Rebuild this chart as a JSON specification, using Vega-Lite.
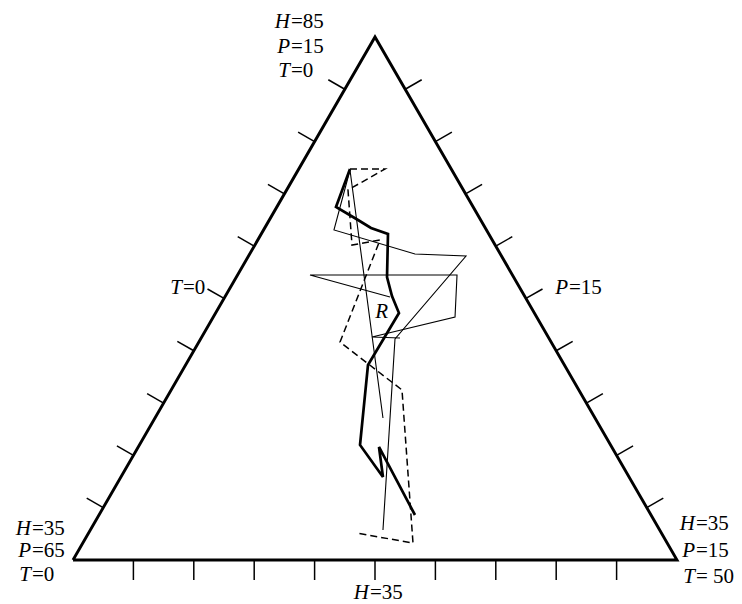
{
  "$schema": "https://vega.github.io/schema/vega-lite/v6.json",
  "width": 742,
  "height": 604,
  "autosize": "none",
  "padding": 0,
  "background": "white",
  "config": {"view": {"stroke": null}},
  "datasets": {
    "frame": [
      {"i": 0, "x": 0, "y": 0},
      {"i": 1, "x": 5, "y": 8.66},
      {"i": 2, "x": 10, "y": 0},
      {"i": 3, "x": 0, "y": 0}
    ],
    "ticks": [
      {"x": 1, "y": 0, "x2": 1, "y2": -0.331},
      {"x": 2, "y": 0, "x2": 2, "y2": -0.331},
      {"x": 3, "y": 0, "x2": 3, "y2": -0.331},
      {"x": 4, "y": 0, "x2": 4, "y2": -0.331},
      {"x": 5, "y": 0, "x2": 5, "y2": -0.331},
      {"x": 6, "y": 0, "x2": 6, "y2": -0.331},
      {"x": 7, "y": 0, "x2": 7, "y2": -0.331},
      {"x": 8, "y": 0, "x2": 8, "y2": -0.331},
      {"x": 9, "y": 0, "x2": 9, "y2": -0.331},
      {"x": 4.5, "y": 7.794, "x2": 4.227, "y2": 7.951},
      {"x": 4.0, "y": 6.928, "x2": 3.727, "y2": 7.085},
      {"x": 3.5, "y": 6.062, "x2": 3.227, "y2": 6.219},
      {"x": 3.0, "y": 5.196, "x2": 2.727, "y2": 5.353},
      {"x": 2.5, "y": 4.330, "x2": 2.227, "y2": 4.487},
      {"x": 2.0, "y": 3.464, "x2": 1.727, "y2": 3.621},
      {"x": 1.5, "y": 2.598, "x2": 1.227, "y2": 2.755},
      {"x": 1.0, "y": 1.732, "x2": 0.727, "y2": 1.889},
      {"x": 0.5, "y": 0.866, "x2": 0.227, "y2": 1.023},
      {"x": 5.5, "y": 7.794, "x2": 5.773, "y2": 7.951},
      {"x": 6.0, "y": 6.928, "x2": 6.273, "y2": 7.085},
      {"x": 6.5, "y": 6.062, "x2": 6.773, "y2": 6.219},
      {"x": 7.0, "y": 5.196, "x2": 7.273, "y2": 5.353},
      {"x": 7.5, "y": 4.330, "x2": 7.773, "y2": 4.487},
      {"x": 8.0, "y": 3.464, "x2": 8.273, "y2": 3.621},
      {"x": 8.5, "y": 2.598, "x2": 8.773, "y2": 2.755},
      {"x": 9.0, "y": 1.732, "x2": 9.273, "y2": 1.889},
      {"x": 9.5, "y": 0.866, "x2": 9.773, "y2": 1.023}
    ],
    "heavy": [
      {"i": 0, "x": 4.586, "y": 6.474},
      {"i": 1, "x": 4.354, "y": 5.844},
      {"i": 2, "x": 4.719, "y": 5.629},
      {"i": 3, "x": 4.934, "y": 5.497},
      {"i": 4, "x": 5.215, "y": 5.397},
      {"i": 5, "x": 5.199, "y": 4.685},
      {"i": 6, "x": 5.281, "y": 4.371},
      {"i": 7, "x": 5.397, "y": 4.089},
      {"i": 8, "x": 4.884, "y": 3.228},
      {"i": 9, "x": 4.752, "y": 1.904},
      {"i": 10, "x": 5.132, "y": 1.374},
      {"i": 11, "x": 5.066, "y": 1.871},
      {"i": 12, "x": 5.662, "y": 0.745}
    ],
    "dashed": [
      {"i": 0, "x": 4.586, "y": 6.474},
      {"i": 1, "x": 5.166, "y": 6.474},
      {"i": 2, "x": 4.553, "y": 6.126},
      {"i": 3, "x": 4.619, "y": 5.215},
      {"i": 4, "x": 5.083, "y": 5.298},
      {"i": 5, "x": 4.421, "y": 3.609},
      {"i": 6, "x": 5.447, "y": 2.815},
      {"i": 7, "x": 5.629, "y": 0.281},
      {"i": 8, "x": 4.685, "y": 0.447}
    ],
    "light": [
      {"p": "a", "i": 0, "x": 5.132, "y": 2.351},
      {"p": "a", "i": 1, "x": 4.586, "y": 6.457},
      {"p": "a", "i": 2, "x": 4.321, "y": 5.464},
      {"p": "a", "i": 3, "x": 5.662, "y": 5.066},
      {"p": "a", "i": 4, "x": 6.507, "y": 5.033},
      {"p": "a", "i": 5, "x": 5.331, "y": 3.659},
      {"p": "a", "i": 6, "x": 5.132, "y": 0.497},
      {"p": "b", "i": 0, "x": 5.248, "y": 4.354},
      {"p": "b", "i": 1, "x": 3.924, "y": 4.719},
      {"p": "b", "i": 2, "x": 6.358, "y": 4.719},
      {"p": "b", "i": 3, "x": 6.325, "y": 4.023},
      {"p": "b", "i": 4, "x": 4.950, "y": 3.692},
      {"p": "b", "i": 5, "x": 5.414, "y": 3.675}
    ],
    "labels": [
      {"x": 3.593, "y": 8.907, "letter": "H", "rest": "=85"},
      {"x": 3.593, "y": 8.493, "letter": "P", "rest": "=15"},
      {"x": 3.593, "y": 8.096, "letter": "T", "rest": "=0"},
      {"x": -0.695, "y": 0.513, "letter": "H", "rest": "=35"},
      {"x": -0.695, "y": 0.149, "letter": "P", "rest": "=65"},
      {"x": -0.695, "y": -0.248, "letter": "T", "rest": "=0"},
      {"x": 10.298, "y": 0.596, "letter": "H", "rest": "=35"},
      {"x": 10.298, "y": 0.149, "letter": "P", "rest": "=15"},
      {"x": 10.298, "y": -0.281, "letter": "T", "rest": "= 50"},
      {"x": 1.805, "y": 4.503, "letter": "T", "rest": "=0"},
      {"x": 8.195, "y": 4.503, "letter": "P", "rest": "=15"},
      {"x": 4.901, "y": -0.546, "letter": "H", "rest": "=35"}
    ],
    "region": [
      {"x": 5.110, "y": 4.101, "name": "R"}
    ]
  },
  "layer": [
    {
      "data": {"name": "frame"},
      "mark": {"type": "line", "color": "black", "strokeWidth": 2.9, "strokeJoin": "miter"},
      "encoding": {
        "x": {"field": "x", "type": "quantitative", "scale": {"domain": [-1.2086, 11.0762], "zero": false, "nice": false}, "axis": null},
        "y": {"field": "y", "type": "quantitative", "scale": {"domain": [-0.7285, 9.2715], "zero": false, "nice": false}, "axis": null},
        "order": {"field": "i"}
      }
    },
    {
      "data": {"name": "ticks"},
      "mark": {"type": "rule", "color": "black", "strokeWidth": 1.5},
      "encoding": {
        "x": {"field": "x", "type": "quantitative"},
        "y": {"field": "y", "type": "quantitative"},
        "x2": {"field": "x2"},
        "y2": {"field": "y2"}
      }
    },
    {
      "data": {"name": "light"},
      "mark": {"type": "line", "color": "black", "strokeWidth": 1.1, "strokeJoin": "miter"},
      "encoding": {
        "x": {"field": "x", "type": "quantitative"},
        "y": {"field": "y", "type": "quantitative"},
        "detail": {"field": "p"},
        "order": {"field": "i"}
      }
    },
    {
      "data": {"name": "dashed"},
      "mark": {"type": "line", "color": "black", "strokeWidth": 1.5, "strokeDash": [7, 4], "strokeJoin": "miter"},
      "encoding": {
        "x": {"field": "x", "type": "quantitative"},
        "y": {"field": "y", "type": "quantitative"},
        "order": {"field": "i"}
      }
    },
    {
      "data": {"name": "heavy"},
      "mark": {"type": "line", "color": "black", "strokeWidth": 2.7, "strokeJoin": "miter"},
      "encoding": {
        "x": {"field": "x", "type": "quantitative"},
        "y": {"field": "y", "type": "quantitative"},
        "order": {"field": "i"}
      }
    },
    {
      "data": {"name": "region"},
      "mark": {"type": "text", "font": "Liberation Serif", "fontStyle": "italic", "fontSize": 21, "color": "black", "baseline": "middle", "align": "center"},
      "encoding": {
        "x": {"field": "x", "type": "quantitative"},
        "y": {"field": "y", "type": "quantitative"},
        "text": {"field": "name"}
      }
    },
    {
      "data": {"name": "labels"},
      "mark": {"type": "text", "font": "Liberation Serif", "fontStyle": "italic", "fontSize": 21, "color": "black", "baseline": "middle", "align": "right"},
      "encoding": {
        "x": {"field": "x", "type": "quantitative"},
        "y": {"field": "y", "type": "quantitative"},
        "text": {"field": "letter"}
      }
    },
    {
      "data": {"name": "labels"},
      "mark": {"type": "text", "font": "Liberation Serif", "fontSize": 21, "color": "black", "baseline": "middle", "align": "left", "dx": 1},
      "encoding": {
        "x": {"field": "x", "type": "quantitative"},
        "y": {"field": "y", "type": "quantitative"},
        "text": {"field": "rest"}
      }
    }
  ]
}
